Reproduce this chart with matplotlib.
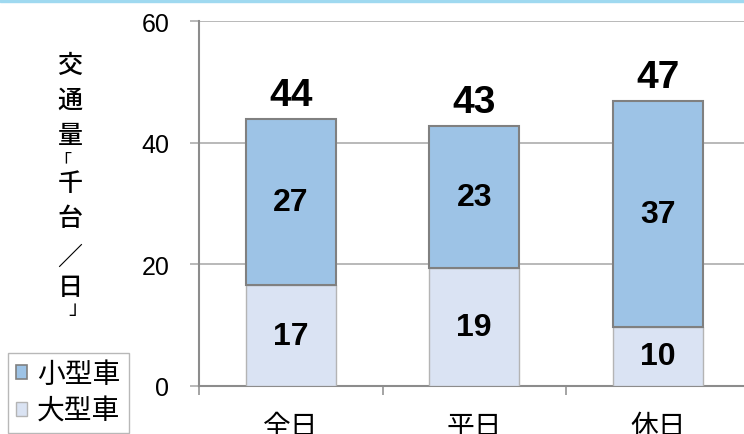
import matplotlib
matplotlib.use("Agg")
import matplotlib.pyplot as plt
from matplotlib.patches import Patch, Rectangle
import numpy as np

categories = ["全日", "平日", "休日"]
large_vals = [16.6, 19.4, 9.7]    # 大型車
small_vals = [27.3, 23.3, 37.2]   # 小型車
series_names = ["小型車", "大型車"]
yticks = [0, 20, 40, 60]

plt.rcParams['font.family'] = ['Liberation Sans', 'Noto Sans CJK JP', 'DejaVu Sans']

W, H = 744, 435
fig = plt.figure(figsize=(W / 100, H / 100), dpi=100)
ax = fig.add_axes([199 / W, 48 / H, 550.5 / W, 365 / H])

x = np.arange(len(categories))
bw = 0.49
c_small = "#9dc3e6"
c_large = "#dae3f3"

ax.bar(x, large_vals, bw, color=c_large, edgecolor="#b4b4b4", linewidth=1.0, zorder=3)
ax.bar(x, small_vals, bw, bottom=large_vals, color=c_small, edgecolor="#808080",
       linewidth=1.5, zorder=3)

for i in range(len(categories)):
    ax.text(x[i], large_vals[i] / 2, f"{round(large_vals[i])}", ha="center", va="center",
            fontsize=23, fontweight="bold", zorder=5)
    ax.text(x[i], large_vals[i] + small_vals[i] / 2, f"{round(small_vals[i])}", ha="center",
            va="center", fontsize=23, fontweight="bold", zorder=5)
    tot = large_vals[i] + small_vals[i]
    ax.annotate(f"{round(tot)}", (x[i], tot), xytext=(0, 10), textcoords="offset points",
                ha="center", va="baseline", fontsize=28, fontweight="bold", zorder=5)

ax.set_xlim(-0.5, len(categories) - 0.5)
ax.set_ylim(0, 60)
ax.set_yticks(yticks)
ax.set_yticklabels([str(t) for t in yticks], fontsize=18)
ax.yaxis.grid(True, color="#a6a6a6", linewidth=1.1, zorder=0)
ax.set_axisbelow(True)
ax.tick_params(axis="y", length=6.5, width=1.1, color="#a6a6a6", pad=15)

ax.set_xticks(x)
ax.set_xticklabels(categories, fontsize=20)
ax.tick_params(axis="x", which="major", length=0, pad=20)
ax.set_xticks(np.arange(len(categories) + 1) - 0.5, minor=True)
ax.tick_params(axis="x", which="minor", length=6.5, width=1.1, color="#8c8c8c")

for s in ["top", "right"]:
    ax.spines[s].set_visible(False)
ax.spines["left"].set_color("#8c8c8c")
ax.spines["left"].set_linewidth(1.5)
ax.spines["bottom"].set_color("#8c8c8c")
ax.spines["bottom"].set_linewidth(1.5)

# vertical y-axis label, character by character
ylabel_chars = [("交", 66, 70), ("通", 101, 70), ("量", 136, 70), ("千", 184, 70),
                ("台", 219, 70), ("／", 258, 70), ("日", 288, 70)]
for ch, py, px in ylabel_chars:
    fig.text(px / W, 1 - py / H, ch, ha="center", va="center", fontsize=18,
             family=["Noto Sans CJK JP"], fontweight="medium")
# brackets (smaller boxes so they sit between characters)
fig.text(62 / W, 1 - 161 / H, "「", ha="center", va="center", fontsize=13,
         family=["Noto Sans CJK JP"])
fig.text(78 / W, 1 - 309 / H, "」", ha="center", va="center", fontsize=14,
         family=["Noto Sans CJK JP"])

# top light-blue line
fig.add_artist(Rectangle((0, 1 - 3 / H), 1, 3 / H, transform=fig.transFigure,
                         color="#9fd9f0", zorder=10))

handles = [Patch(facecolor=c_small, edgecolor="#808080", linewidth=1.2),
           Patch(facecolor=c_large, edgecolor="#b4b4b4", linewidth=1.0)]
leg = fig.legend(handles, series_names, loc="lower left", bbox_to_anchor=(8 / W, 1 / H),
                 fontsize=20, handlelength=0.4, handleheight=0.4, handletextpad=0.35,
                 borderpad=0.3, labelspacing=0.4, fancybox=False, frameon=True,
                 borderaxespad=0)
leg.get_frame().set_edgecolor("#a6a6a6")
leg.get_frame().set_linewidth(1.0)

fig.savefig("out.png", dpi=100)
